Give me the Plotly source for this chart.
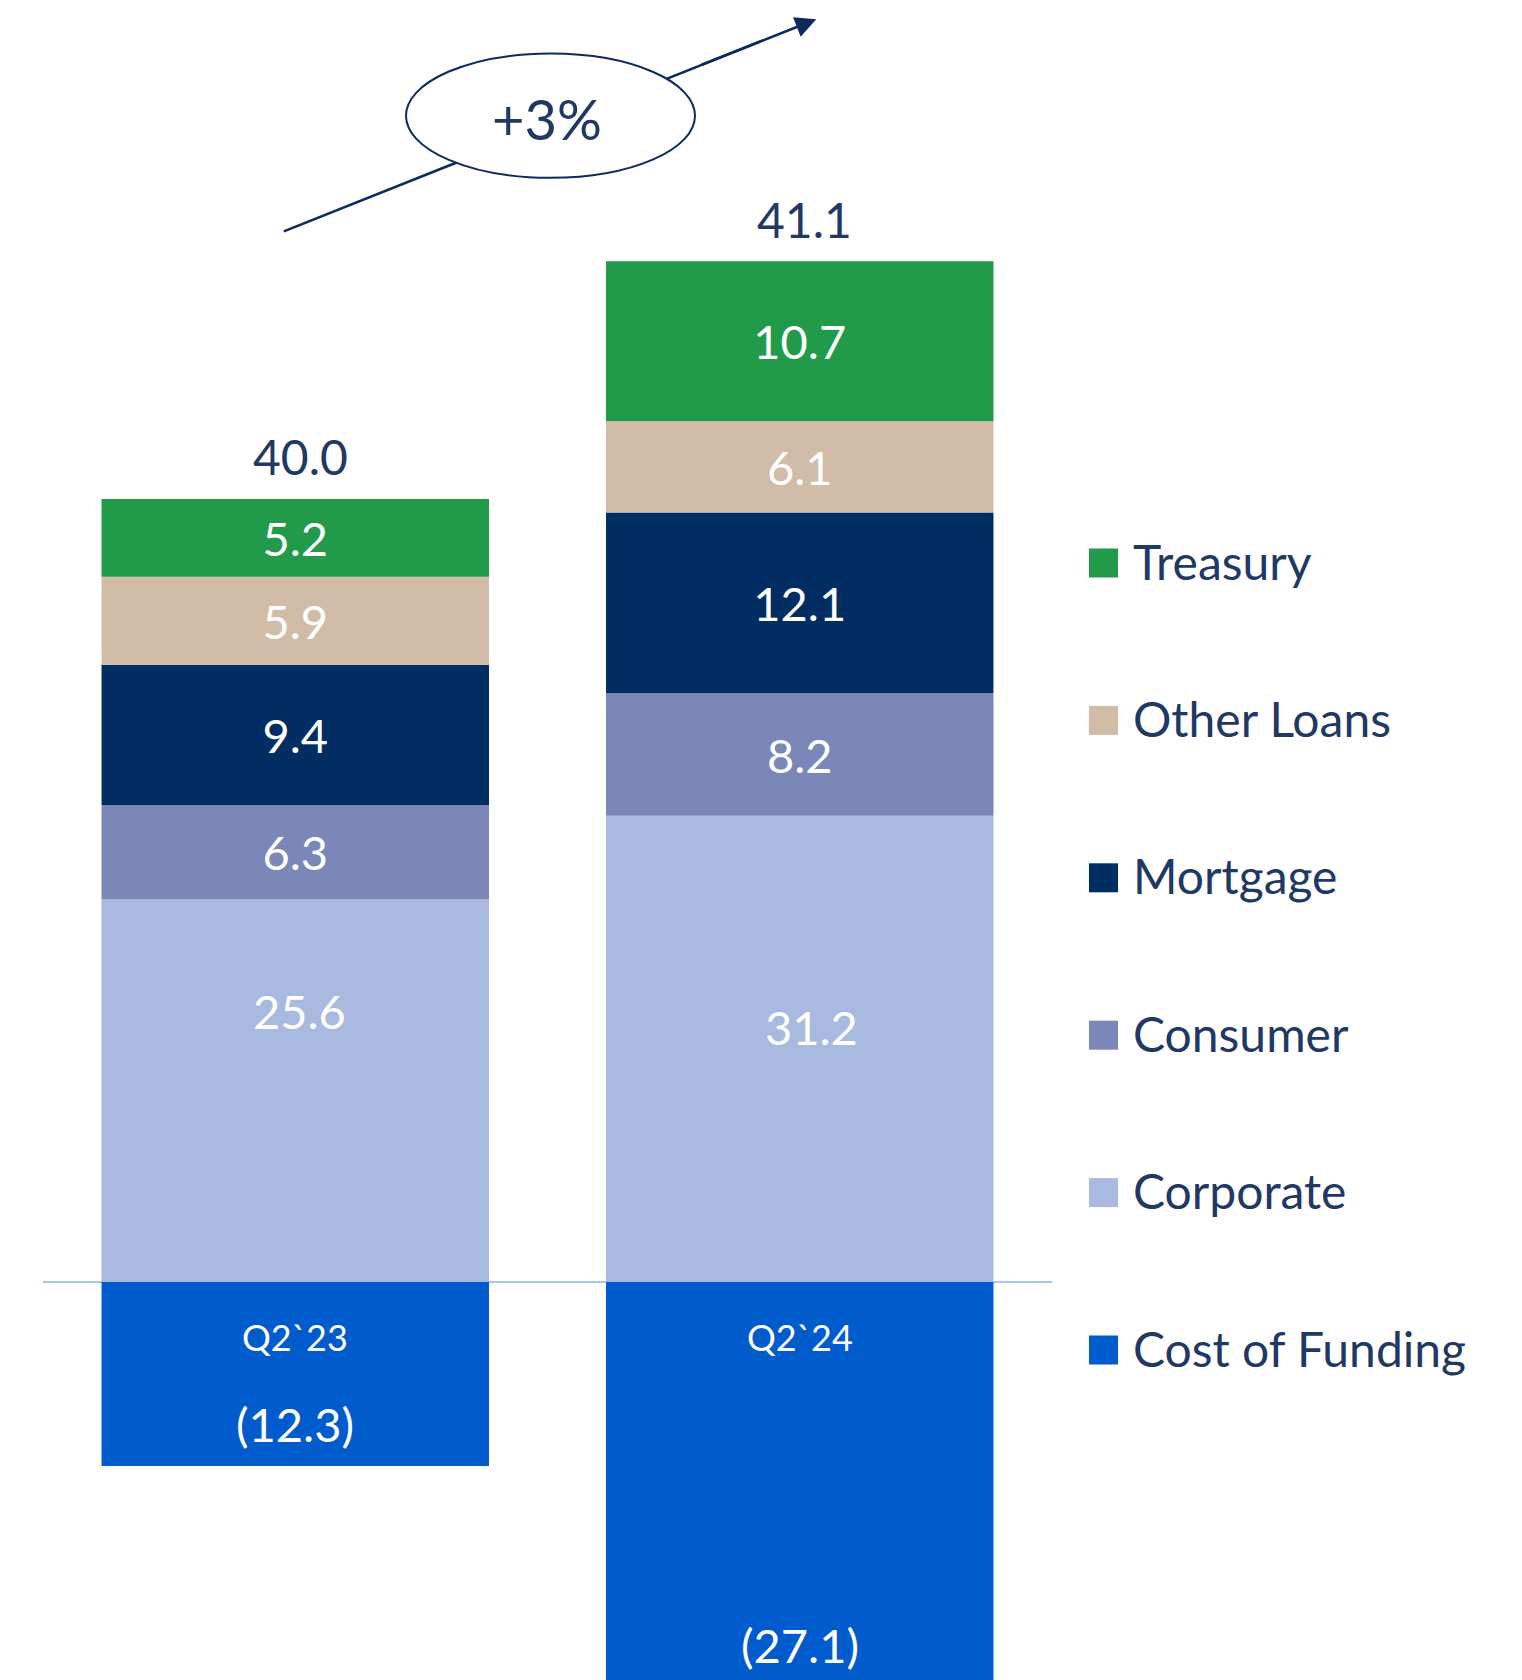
import plotly.graph_objects as go

# ---------------- data ----------------
categories = ["Q2`23", "Q2`24"]
corporate = [25.6, 31.2]
consumer = [6.3, 8.2]
mortgage = [9.4, 12.1]
other_loans = [5.9, 6.1]
treasury = [5.2, 10.7]
cost_of_funding = [-12.3, -27.1]
totals = [40.0, 41.1]
growth_label = "+3%"

series_names = ["Corporate", "Consumer", "Mortgage", "Other Loans", "Treasury"]
series_values = [corporate, consumer, mortgage, other_loans, treasury]
funding_name = "Cost of Funding"

# ---------------- styles ----------------
colors = {
    "Treasury": "#219A4A",
    "Other Loans": "#D1BCA8",
    "Mortgage": "#002D62",
    "Consumer": "#7A87B8",
    "Corporate": "#A9BAE0",
    "Cost of Funding": "#005BCC",
}
NAVY = "#1F3864"
ARROW = "#0E2A5C"
FONT = "Lato"
W, H = 1522, 1680
OFF = 8  # page body margin compensation
PX_PER_UNIT = 14.945
ZERO_PY = 1282.1 - OFF


def px(xp):
    return (xp - OFF) / W


def py(yp):
    return 1 - (yp - OFF) / H


fig = go.Figure()

for name, vals in zip(series_names, series_values):
    show_text = name != "Corporate"
    fig.add_trace(go.Bar(
        x=categories, y=vals, name=name,
        marker=dict(color=colors[name], line=dict(width=0)),
        texttemplate="%{y:.1f}" if show_text else None,
        textposition="inside" if show_text else "none",
        insidetextanchor="middle",
        textangle=0,
        constraintext="none",
        textfont=dict(family=FONT, size=47, color="white"),
        showlegend=False, hoverinfo="skip",
    ))

fig.add_trace(go.Bar(
    x=categories, y=cost_of_funding, name=funding_name,
    marker=dict(color=colors[funding_name], line=dict(width=0)),
    textposition="none",
    showlegend=False, hoverinfo="skip",
))

annotations = []
corp_shift = [80, 22]
corp_xshift = [4, 12]
for i, c in enumerate(categories):
    annotations.append(dict(
        x=c, y=corporate[i] / 2, xref="x", yref="y", text=f"{corporate[i]:.1f}",
        showarrow=False, yshift=corp_shift[i], xshift=corp_xshift[i],
        font=dict(family=FONT, size=47, color="white")))
    annotations.append(dict(
        x=c, y=cost_of_funding[i], xref="x", yref="y",
        text=f"({abs(cost_of_funding[i]):.1f})",
        showarrow=False, yshift=42,
        font=dict(family=FONT, size=47, color="white")))
    annotations.append(dict(
        x=c, y=0, xref="x", yref="y", text=c,
        showarrow=False, yshift=-55,
        font=dict(family=FONT, size=36, color="white")))
    pos_sum = sum(v[i] for v in series_values)
    annotations.append(dict(
        x=c, y=pos_sum, xref="x", yref="y", text=f"{totals[i]:.1f}",
        showarrow=False, yshift=42, xshift=5,
        font=dict(family=FONT, size=48, color=NAVY)))

# growth arrow head
annotations.append(dict(
    x=px(816.2), y=py(19.3), xref="paper", yref="paper",
    ax=-116, ay=46, axref="pixel", ayref="pixel",
    text="", showarrow=True, arrowhead=2, arrowsize=1.6, arrowwidth=2.6,
    arrowcolor=ARROW, standoff=0))
annotations.append(dict(
    x=px(547), y=py(119), xref="paper", yref="paper", text=growth_label,
    xanchor="center", yanchor="middle",
    showarrow=False, font=dict(family=FONT, size=56, color=NAVY)))

shapes = [
    dict(type="line", xref="paper", yref="paper",
         x0=px(283.8), y0=py(231.4), x1=px(760), y1=py(41.6),
         line=dict(color=ARROW, width=2.6), layer="above"),
    dict(type="circle", xref="paper", yref="paper",
         x0=px(406), x1=px(695), y0=py(177.8), y1=py(53.6),
         line=dict(color=ARROW, width=2), fillcolor="white", layer="above"),
]

# ---------------- custom legend ----------------
legend_order = ["Treasury", "Other Loans", "Mortgage", "Consumer", "Corporate", "Cost of Funding"]
idx = list(range(len(legend_order)))
leg_top, leg_step = 563 - OFF, 157.4
text_drop = 4.5 / leg_step  # optical alignment of label text with swatch
fig.add_trace(go.Scatter(
    x=[0] * len(idx), y=idx, mode="markers", xaxis="x2", yaxis="y2",
    marker=dict(symbol="square", size=29, color=[colors[n] for n in legend_order],
                line=dict(width=0)),
    showlegend=False, hoverinfo="skip"))
fig.add_trace(go.Scatter(
    x=[29.5] * len(idx), y=[i + text_drop for i in idx], mode="text",
    xaxis="x2", yaxis="y2",
    text=legend_order, textposition="middle right",
    textfont=dict(family=FONT, size=48, color=NAVY),
    showlegend=False, hoverinfo="skip"))

mark_x = 1103.5 - OFF
fig.update_layout(
    width=W, height=H,
    margin=dict(l=0, r=0, t=0, b=0),
    paper_bgcolor="white", plot_bgcolor="white",
    barmode="relative", bargap=0.232,
    showlegend=False,
    font=dict(family=FONT, color=NAVY),
    xaxis=dict(domain=[px(43), px(1052)], range=[-0.5, 1.5],
               showticklabels=False, showgrid=False, zeroline=False,
               showline=False, ticks="", fixedrange=True),
    yaxis=dict(domain=[0, 1],
               range=[-(H - ZERO_PY) / PX_PER_UNIT, ZERO_PY / PX_PER_UNIT],
               showticklabels=False, showgrid=False, zeroline=True,
               zerolinecolor="#A7C7F2", zerolinewidth=1.5,
               showline=False, ticks="", fixedrange=True),
    xaxis2=dict(domain=[px(1080), 1], anchor="y2",
                range=[1080 - OFF - mark_x, W - mark_x],
                visible=False, fixedrange=True),
    yaxis2=dict(domain=[0, 1], anchor="x2",
                range=[(H - leg_top) / leg_step, -leg_top / leg_step],
                visible=False, fixedrange=True),
    annotations=annotations,
    shapes=shapes,
)

fig.write_html("out.html")
